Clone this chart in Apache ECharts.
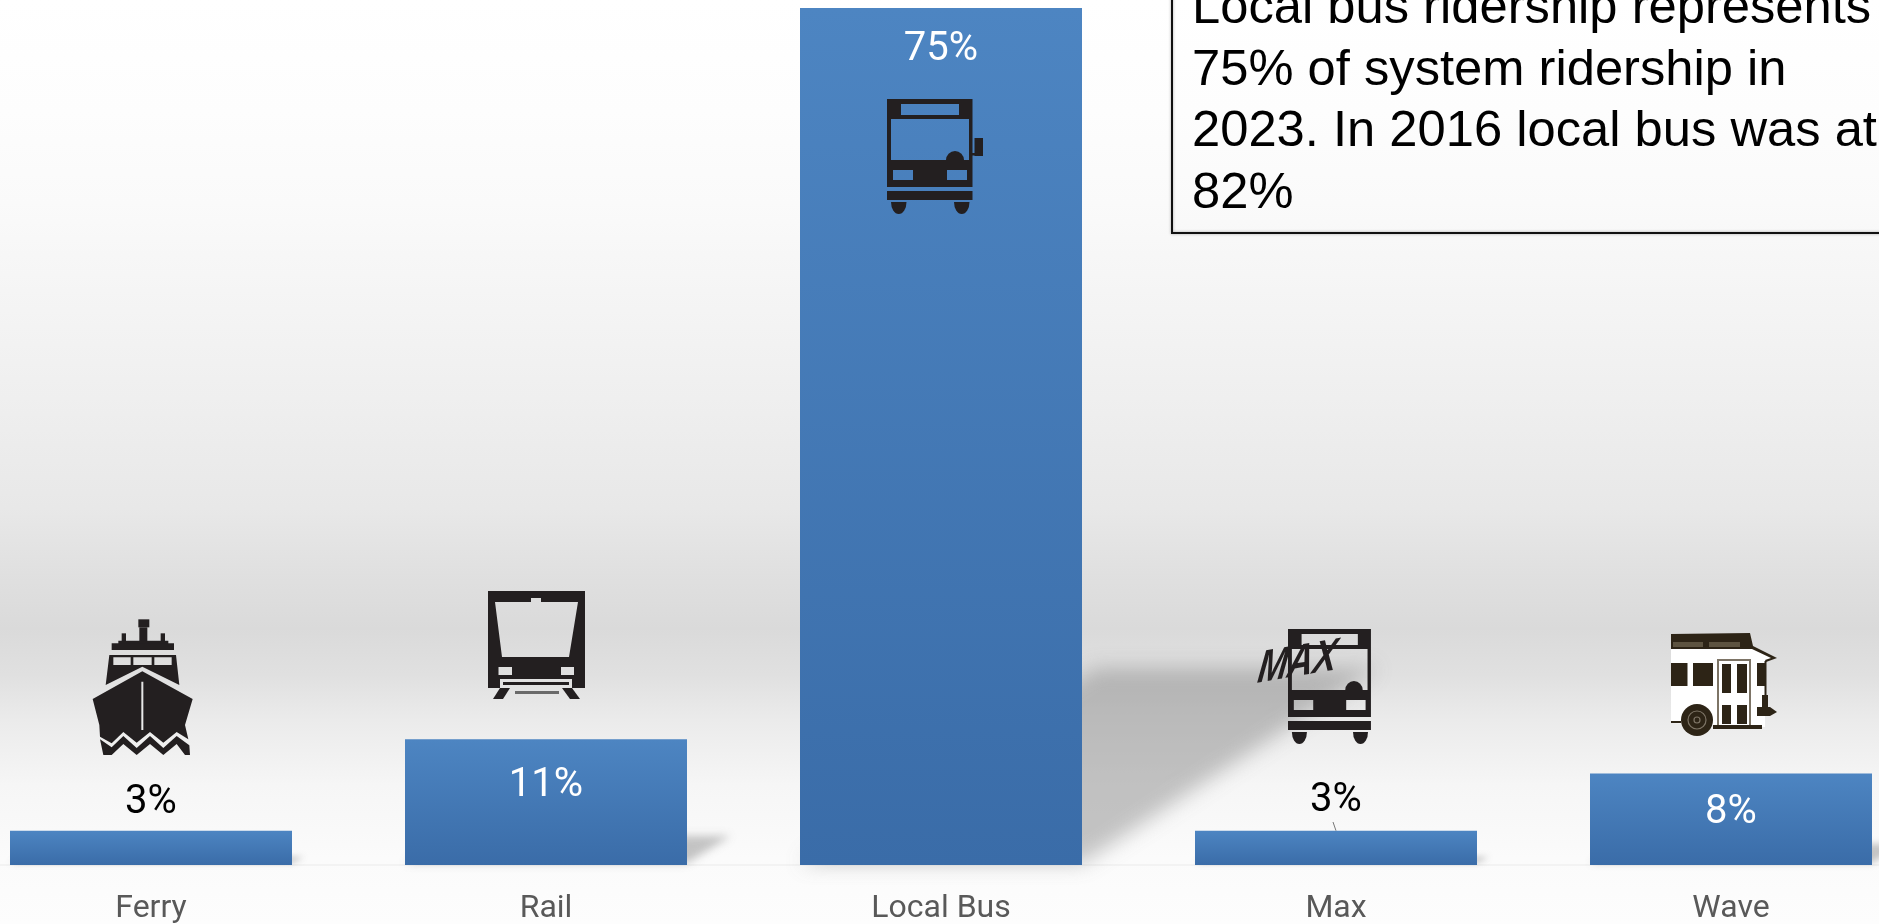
<!DOCTYPE html>
<html>
<head>
<meta charset="utf-8">
<title>Ridership share by mode</title>
<script src="https://cdn.jsdelivr.net/npm/echarts@6/dist/echarts.min.js"></script>
<style>
html, body { margin: 0; padding: 0; background: #fff; }
#chart { width: 1879px; height: 924px; }
</style>
</head>
<body>
<div id="chart"></div>
<script>
// Share of system ridership by mode, percent
const categories = ['Ferry', 'Rail', 'Local Bus', 'Max', 'Wave'];
const ridershipShare = [3, 11, 75, 3, 8];
const noteLines = [
  'Local bus ridership represents',
  '75% of system ridership in',
  '2023. In 2016 local bus was at',
  '82%'
];

const BAR_WIDTH = 282;
const ICON_DARK = '#231f20';
const WAVE_DARK = '#2d2416';
const WAVE_TRIM = '#7d7466';
const FONT = 'Roboto, sans-serif';

// Clockwise outline and counter-clockwise cut-out, so a hole survives the nonzero fill
const box = (x, y, w, h) => `M${x} ${y}H${x + w}V${y + h}H${x}Z`;
const hole = (x, y, w, h) => `M${x} ${y}V${y + h}H${x + w}V${y}Z`;
const poly = pts => 'M' + pts.map(p => p.join(' ')).join('L') + 'Z';
const wheelCap = (x, y, w) => `M${x} ${y}H${x + w}A${w / 2} 12 0 0 1 ${x} ${y}Z`;
const part = (d, fill) => ({ type: 'path', shape: { pathData: d }, style: { fill: fill || ICON_DARK } });
const disc = (cx, cy, r, style) => ({ type: 'circle', shape: { cx, cy, r }, style });

// Front view of a bus, shared by the Local Bus and Max icons
function busParts() {
  return [
    part(box(0, 0, 85.5, 88) + hole(14, 5, 58, 11) + hole(4, 20, 78, 41) + hole(6, 71, 20, 10) + hole(60, 71, 20, 10)),
    part('M59 61A9 9 0 0 1 77 61Z'),
    part(box(0, 92, 85.5, 9)),
    part(wheelCap(4, 103, 15.5)),
    part(wheelCap(67, 103, 15.5))
  ];
}

const ferryIcon = () => ({
  dx: -81, y: 600, scaleX: 1 / 3, scaleY: 1 / 3,
  children: [
    part(box(205, 58, 33, 24)),
    part(box(208, 82, 24, 48)),
    part(box(155, 100, 13, 30)),
    part(box(272, 100, 13, 30)),
    part(box(145, 122, 150, 10)),
    part(box(125, 130, 187, 20)),
    part('M118 165H318L328 255L217 200L107 255Z' + hole(130, 172, 52, 23) + hole(190, 172, 55, 23) + hole(253, 172, 52, 23)),
    part(poly([[217, 214], [368, 297], [345, 375], [355, 418], [320, 396], [280, 428], [240, 396], [200, 428], [160, 396], [125, 430], [90, 410], [88, 375], [68, 297]]) + hole(214, 245, 6, 145)),
    part(poly([[90, 418], [125, 442], [160, 408], [200, 444], [240, 408], [280, 444], [320, 408], [358, 436], [360, 465], [345, 465], [320, 432], [280, 465], [240, 432], [200, 465], [160, 432], [125, 465], [100, 465]]))
  ]
});

const railIcon = () => ({
  dx: -58, y: 591,
  children: [
    part('M0 0H97V97H84V88H12V97H0Z' +
      'M7 11L14 66H81L90 11H53V7H43V11Z' +
      hole(10.5, 76, 13.5, 8) + hole(73, 76, 13, 8)),
    part(box(15, 91, 66, 3)),
    part(poly([[12, 97], [22, 97], [15, 108], [5, 108]])),
    part(poly([[74, 97], [84, 97], [92, 108], [82, 108]])),
    part(box(27, 100, 44, 3), '#6a6a6a')
  ]
});

const localBusIcon = () => ({
  dx: -54, y: 99,
  children: busParts().concat([part(box(87.5, 39, 8.5, 18)), part(box(85, 54, 4, 2.5))])
});

const maxIcon = () => ({
  dx: -48, y: 629, scaleX: 0.97,
  children: busParts().concat([
    // Script logo laid across the windscreen
    {
      type: 'text', x: -34, y: 64, rotation: 0.16, scaleY: 1.2, skewX: -0.3,
      style: { text: 'MAX', font: 'italic bold 37px "Liberation Sans"', fill: ICON_DARK, verticalAlign: 'bottom' }
    }
  ])
});

const waveIcon = () => ({
  dx: -60, y: 633,
  children: [
    part(poly([[0, 14], [82, 14], [105, 25], [94, 28], [94, 94], [0, 90]]), '#fff'),
    part(poly([[0, 1], [79, 0], [82, 13], [106, 25], [95, 29], [94, 27], [100, 25], [81, 16], [0, 16]]), WAVE_DARK),
    part(box(2, 9, 30, 5), '#5d5340'),
    part(box(38, 9, 31, 5), '#5d5340'),
    part(box(0, 30, 16.5, 23), WAVE_DARK),
    part(box(22, 30, 20, 23), WAVE_DARK),
    part(box(86, 30, 8, 23), WAVE_DARK),
    part(box(93.5, 28, 2, 46), WAVE_DARK),
    part(box(46, 26, 34, 68), WAVE_TRIM),
    part(box(48, 28, 30, 64), '#fff'),
    part(box(51, 31, 9, 29), WAVE_DARK),
    part(box(66, 31, 10, 29), WAVE_DARK),
    part(box(51, 72, 9, 19), WAVE_DARK),
    part(box(66, 72, 10, 19), WAVE_DARK),
    part(box(42, 92, 49, 4), WAVE_DARK),
    part(box(0, 88, 10, 2), WAVE_DARK),
    part(box(91, 62, 6, 12), WAVE_DARK),
    part(poly([[86, 74], [99, 74], [106, 79], [99, 83], [86, 83]]), WAVE_DARK),
    disc(26, 87, 16, { fill: WAVE_DARK }),
    disc(26, 87, 9, { fill: 'none', stroke: WAVE_TRIM, lineWidth: 1.2 }),
    disc(26, 87, 3, { fill: 'none', stroke: WAVE_TRIM, lineWidth: 1.2 })
  ]
});

const modeIcons = [ferryIcon, railIcon, localBusIcon, maxIcon, waveIcon];

// Each icon hangs off its category's centre on the x axis
function renderIcon(params, api) {
  const cx = api.coord([api.value(0), 0])[0];
  const icon = modeIcons[params.dataIndex]();
  const group = {
    type: 'group', x: cx + icon.dx, y: icon.y,
    scaleX: icon.scaleX || 1, scaleY: icon.scaleY || 1,
    children: icon.children
  };
  if (categories[params.dataIndex] === 'Max') {
    // Short leader from the 3% label down to the bar
    const top = api.coord([api.value(0), api.value(1)]);
    return {
      type: 'group',
      children: [group, {
        type: 'line',
        shape: { x1: cx - 3, y1: 822, x2: cx, y2: top[1] },
        style: { stroke: '#777', lineWidth: 1 }
      }]
    };
  }
  return group;
}

// Note box runs off the top and right edges of the page
const noteBox = {
  type: 'rect', z: 9, silent: true,
  shape: { x: 1172, y: -10, width: 760, height: 243 },
  style: { fill: 'none', stroke: '#111', lineWidth: 2, shadowBlur: 3, shadowColor: 'rgba(0,0,0,.35)' }
};
const noteText = {
  type: 'text', z: 10, silent: true, x: 1192, y: -21.5, scaleX: 1.014,
  style: {
    x: 0, y: 0, text: noteLines.join('\n'),
    font: '50px "Liberation Sans"', lineHeight: 61.5, fill: '#000'
  }
};

const barFill = {
  type: 'linear', x: 0, y: 0, x2: 0, y2: 1,
  colorStops: [{ offset: 0, color: '#4d85c2' }, { offset: 1, color: '#3a6ca8' }]
};

const pageFill = {
  type: 'linear', x: 0, y: 0, x2: 0, y2: 1,
  colorStops: [
    { offset: 0, color: '#ffffff' },
    { offset: 0.12, color: '#fdfdfd' },
    { offset: 0.22, color: '#fafafa' },
    { offset: 0.43, color: '#efefef' },
    { offset: 0.55, color: '#e8e8e8' },
    { offset: 0.62, color: '#e0e0e0' },
    { offset: 0.68, color: '#dadada' },
    { offset: 0.73, color: '#e0e0e0' },
    { offset: 0.78, color: '#ebebeb' },
    { offset: 0.85, color: '#f6f6f6' },
    { offset: 0.93, color: '#fbfbfb' },
    { offset: 1, color: '#fdfdfd' }
  ]
};

// Small values sit above the bar in black, the rest just inside its top in white
const labelGap = { Ferry: 8, Rail: 27, 'Local Bus': 22, Max: 10, Wave: 19 };
const barData = ridershipShare.map((value, i) => {
  const small = value < 5;
  return {
    value,
    label: {
      position: small ? 'top' : 'insideTop',
      distance: labelGap[categories[i]],
      color: small ? '#000' : '#fff'
    }
  };
});

// Cast shadow: the bar's outline sheared up and to the right, softened by drawing
// the polygon off-page and letting only its blurred canvas shadow land on the chart
const SHADOW_SHIFT = 4000;
function renderCastShadow(params, api) {
  const base = api.coord([api.value(0), 0]);
  const top = api.coord([api.value(0), api.value(1)]);
  const h = base[1] - top[1];
  const dx = h * 0.345;
  const dy = h * 0.23;
  const x0 = base[0] - BAR_WIDTH / 2;
  const x1 = base[0] + BAR_WIDTH / 2;
  return {
    type: 'polygon',
    silent: true,
    shape: {
      points: [
        [x0 - SHADOW_SHIFT, base[1] - 2],
        [x1 - SHADOW_SHIFT, base[1] - 2],
        [x1 + dx - SHADOW_SHIFT, base[1] - dy],
        [x0 + dx - SHADOW_SHIFT, base[1] - dy]
      ]
    },
    style: {
      fill: '#000',
      shadowColor: 'rgba(120,120,120,.42)',
      shadowBlur: 6 + h * 0.016,
      shadowOffsetX: SHADOW_SHIFT
    }
  };
}

const chart = echarts.init(document.getElementById('chart'), null, { renderer: 'canvas' });
chart.setOption({
  animation: false,
  backgroundColor: pageFill,
  grid: { left: -46.5, width: 1975, top: 8, bottom: 59, containLabel: false, outerBoundsMode: 'none' },
  xAxis: {
    type: 'category',
    data: categories,
    axisTick: { show: false },
    axisLine: { show: true, lineStyle: { color: '#f3f3f3', width: 2 } },
    axisLabel: { color: '#595959', fontFamily: FONT, fontSize: 32, margin: 28 }
  },
  yAxis: { type: 'value', min: 0, max: 75, show: false, splitLine: { show: false } },
  series: [
    {
      type: 'custom',
      z: 1,
      silent: true,
      clip: false,
      renderItem: renderCastShadow,
      data: ridershipShare.map((v, i) => [i, v])
    },
    {
      type: 'bar',
      z: 3,
      silent: true,
      barWidth: BAR_WIDTH,
      itemStyle: { color: barFill },
      label: { show: true, formatter: '{c}%', fontFamily: FONT, fontSize: 40 },
      data: barData
    },
    {
      type: 'custom',
      z: 5,
      silent: true,
      clip: false,
      renderItem: renderIcon,
      data: ridershipShare.map((v, i) => [i, v])
    }
  ],
  graphic: [noteBox, noteText]
});
</script>
</body>
</html>
